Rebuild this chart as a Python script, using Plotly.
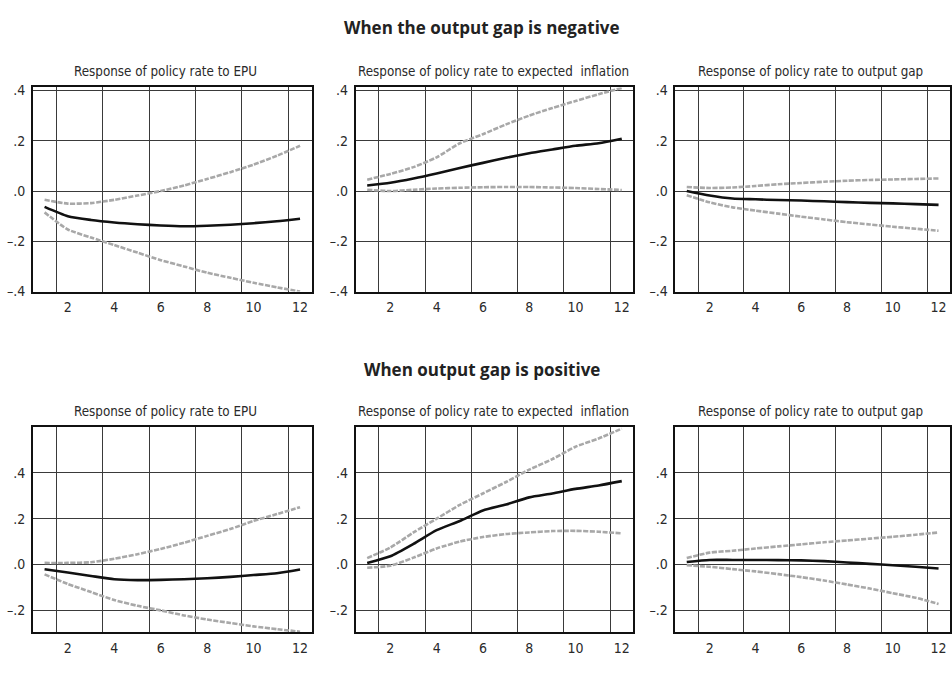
import plotly.graph_objects as go

horizon = list(range(1, 13))

# Top row: output gap negative
neg_epu_mid = [-0.063, -0.100, -0.115, -0.125, -0.132, -0.137, -0.140, -0.138, -0.134, -0.128, -0.120, -0.110]
neg_epu_up = [-0.035, -0.050, -0.048, -0.035, -0.018, 0.000, 0.022, 0.048, 0.075, 0.105, 0.140, 0.180]
neg_epu_lo = [-0.085, -0.153, -0.185, -0.215, -0.245, -0.275, -0.300, -0.325, -0.345, -0.365, -0.383, -0.400]

neg_inf_mid = [0.022, 0.033, 0.050, 0.070, 0.092, 0.112, 0.132, 0.150, 0.165, 0.180, 0.190, 0.208]
neg_inf_up = [0.045, 0.068, 0.095, 0.134, 0.190, 0.226, 0.265, 0.300, 0.330, 0.358, 0.385, 0.410]
neg_inf_lo = [0.005, 0.000, 0.005, 0.010, 0.013, 0.015, 0.016, 0.016, 0.014, 0.012, 0.008, 0.004]

neg_gap_mid = [0.000, -0.018, -0.030, -0.033, -0.036, -0.038, -0.041, -0.044, -0.047, -0.049, -0.052, -0.055]
neg_gap_up = [0.016, 0.012, 0.014, 0.020, 0.027, 0.032, 0.037, 0.041, 0.044, 0.046, 0.048, 0.050]
neg_gap_lo = [-0.017, -0.045, -0.065, -0.078, -0.090, -0.102, -0.113, -0.124, -0.133, -0.142, -0.150, -0.158]

# Bottom row: output gap positive
pos_epu_mid = [-0.021, -0.035, -0.050, -0.064, -0.068, -0.067, -0.064, -0.060, -0.054, -0.046, -0.038, -0.022]
pos_epu_up = [0.007, 0.007, 0.010, 0.025, 0.045, 0.068, 0.095, 0.125, 0.155, 0.190, 0.220, 0.250]
pos_epu_lo = [-0.043, -0.085, -0.120, -0.155, -0.180, -0.200, -0.222, -0.240, -0.255, -0.270, -0.282, -0.293]

pos_inf_mid = [0.007, 0.036, 0.090, 0.150, 0.190, 0.236, 0.262, 0.293, 0.310, 0.330, 0.345, 0.364]
pos_inf_up = [0.028, 0.074, 0.140, 0.200, 0.260, 0.310, 0.360, 0.414, 0.460, 0.514, 0.550, 0.593]
pos_inf_lo = [-0.014, -0.005, 0.030, 0.070, 0.100, 0.120, 0.133, 0.140, 0.146, 0.147, 0.143, 0.136]

pos_gap_mid = [0.011, 0.020, 0.020, 0.020, 0.019, 0.018, 0.015, 0.009, 0.003, -0.003, -0.010, -0.017]
pos_gap_up = [0.028, 0.052, 0.060, 0.070, 0.079, 0.088, 0.097, 0.105, 0.113, 0.121, 0.130, 0.140]
pos_gap_lo = [-0.003, -0.010, -0.020, -0.030, -0.042, -0.055, -0.070, -0.087, -0.105, -0.125, -0.145, -0.172]

x_ticks = [2, 4, 6, 8, 10, 12]
x_grid = [1.5, 3.5, 5.5, 7.5, 9.5, 11.5]
top_yticks = [-0.4, -0.2, 0.0, 0.2, 0.4]
top_ylabels = ["–.4", "–.2", ".0", ".2", ".4"]
bot_yticks = [-0.2, 0.0, 0.2, 0.4]
bot_ylabels = ["–.2", ".0", ".2", ".4"]

panel_titles = ["Response of policy rate to EPU",
                "Response of policy rate to expected  inflation",
                "Response of policy rate to output gap"]
row_titles = ["When the output gap is negative", "When output gap is positive"]

panels = [
    (neg_epu_mid, neg_epu_up, neg_epu_lo),
    (neg_inf_mid, neg_inf_up, neg_inf_lo),
    (neg_gap_mid, neg_gap_up, neg_gap_lo),
    (pos_epu_mid, pos_epu_up, pos_epu_lo),
    (pos_inf_mid, pos_inf_up, pos_inf_lo),
    (pos_gap_mid, pos_gap_up, pos_gap_lo),
]

W, H = 952, 700
x_dom_px = [(33, 312), (356, 634), (676, 951)]
y_dom_px = [(84, 292), (430, 639)]

FONT = "DejaVu Sans Condensed, Roboto, sans-serif"
GRID = "#3a3a3a"
BAND = "#a8a8a8"
TXT = "#2a2a2a"

fig = go.Figure()
layout = {}
for i, (mid, up, lo) in enumerate(panels):
    r, c = divmod(i, 3)
    n = i + 1
    xa = "x" if n == 1 else f"x{n}"
    ya = "y" if n == 1 else f"y{n}"
    for series, color, dash in [(up, BAND, "5px,1.5px"), (lo, BAND, "5px,1.5px"), (mid, "#111111", "solid")]:
        fig.add_trace(go.Scatter(x=horizon, y=series, mode="lines", xaxis=xa, yaxis=ya,
                                 line=dict(color=color, width=2.6, dash=dash, shape="spline", smoothing=0.6),
                                 showlegend=False, hoverinfo="skip"))
    x0, x1 = x_dom_px[c]
    y0, y1 = y_dom_px[r]
    xkey = "xaxis" if n == 1 else f"xaxis{n}"
    ykey = "yaxis" if n == 1 else f"yaxis{n}"
    layout[xkey] = dict(
        domain=[x0 / W, min(x1 / W, 1.0)], anchor=ya, range=[0.5, 12.5],
        tickmode="array", tickvals=x_ticks, ticks="", showgrid=False, zeroline=False,
        minor=dict(tickmode="array", tickvals=x_grid, showgrid=True, gridcolor=GRID, gridwidth=1, ticks=""),
        showline=True, mirror=True, linecolor="#111111", linewidth=1.6,
        tickfont=dict(family=FONT, size=14, color=TXT), ticklabelstandoff=2,
    )
    if r == 0:
        yr, yt, yl = [-0.4, 0.412], top_yticks, top_ylabels
    else:
        yr, yt, yl = [-0.295, 0.6], bot_yticks, bot_ylabels
    layout[ykey] = dict(
        domain=[1 - y1 / H, 1 - y0 / H], anchor=xa, range=yr,
        tickmode="array", tickvals=yt, ticktext=yl, ticks="",
        showgrid=True, gridcolor=GRID, gridwidth=1, zeroline=False,
        showline=True, mirror=True, linecolor="#111111", linewidth=1.6,
        tickfont=dict(family=FONT, size=14, color=TXT), ticklabelstandoff=3,
    )

annotations = []
title_y_px = [23, 371]
sub_y_px = [68, 414]
sub_x_px = [166, 494, 811]
for r in range(2):
    annotations.append(dict(text=row_titles[r], x=483 / W, y=1 - title_y_px[r] / H,
                            xref="paper", yref="paper", showarrow=False,
                            xanchor="center", yanchor="middle",
                            font=dict(family="Open Sans", size=17, color="#222222", weight="bold")))
    for c in range(3):
        annotations.append(dict(text=panel_titles[c], x=sub_x_px[c] / W, y=1 - sub_y_px[r] / H,
                                xref="paper", yref="paper", showarrow=False,
                                xanchor="center", yanchor="middle",
                                font=dict(family=FONT, size=13.3, color=TXT)))

fig.update_layout(
    width=W, height=H, margin=dict(l=0, r=0, t=0, b=0),
    paper_bgcolor="white", plot_bgcolor="white",
    annotations=annotations, **layout,
)

fig.write_html("out.html", config={"displayModeBar": False},
               post_script="document.body.style.margin='0px';document.body.style.overflow='hidden';")
